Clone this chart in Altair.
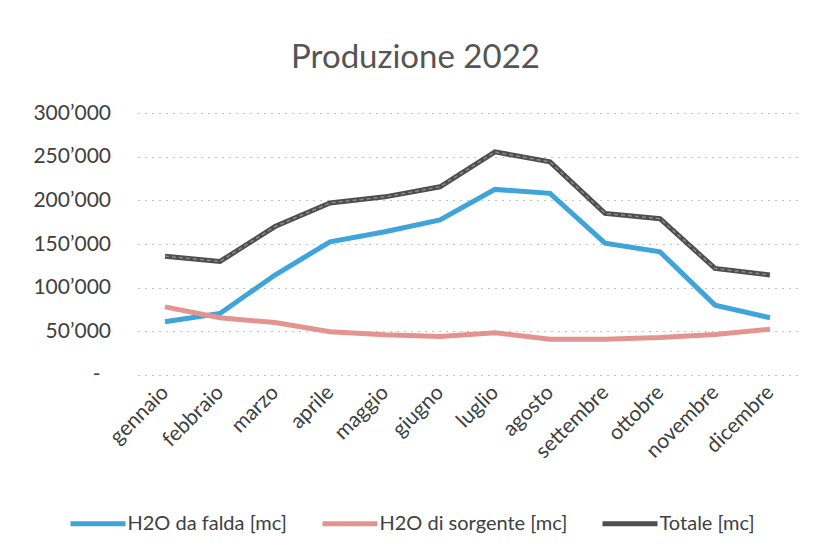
import altair as alt
import pandas as pd

months = ["gennaio", "febbraio", "marzo", "aprile", "maggio", "giugno",
          "luglio", "agosto", "settembre", "ottobre", "novembre", "dicembre"]
falda = [61000, 70500, 114500, 152500, 164000, 177500, 212500, 208000, 151000, 141000, 80000, 65500]
sorgente = [78000, 65500, 60000, 49500, 46000, 44000, 48500, 41000, 41000, 43000, 46500, 52500]
totale = [136000, 130000, 170000, 197000, 204000, 215500, 255500, 244000, 185000, 179000, 122000, 114500]
series = ["H2O da falda [mc]", "H2O di sorgente [mc]", "Totale [mc]"]
colors = ["#3ea4da", "#e3948f", "#4e4e4e"]
y_ticks = [0, 50000, 100000, 150000, 200000, 250000, 300000]

rows = []
for name, vals in zip(series, [falda, sorgente, totale]):
    for m, v in zip(months, vals):
        rows.append({"mese": m, "valore": v, "serie": name})
df = pd.DataFrame(rows)

FONT = "Lato"

x_enc = alt.X("mese:N", sort=months, scale=alt.Scale(padding=0.5),
              axis=alt.Axis(title=None, labelAngle=-45, labelAlign="right",
                            labelBaseline="middle", labelFontSize=21,
                            labelColor="#404040", labelFont=FONT, labelPadding=14,
                            domain=False, ticks=False, grid=False))
y_enc = alt.Y("valore:Q", scale=alt.Scale(domain=[0, 300000]),
              axis=alt.Axis(title=None, values=y_ticks, domain=False, ticks=False,
                            grid=True, gridColor="#c4c4c4", gridDash=[2, 5],
                            labelFontSize=21, labelColor="#404040", labelFont=FONT,
                            labelPadding=27,
                            labelExpr="datum.value == 0 ? '' : replace(format(datum.value, ','), ',', '\u2019')"))

lines = alt.Chart(df).mark_line(strokeWidth=5).encode(
    x=x_enc,
    y=y_enc,
    color=alt.Color("serie:N", scale=alt.Scale(domain=series, range=colors),
                    legend=alt.Legend(title=None, orient="none", legendX=-52, legendY=398,
                                      direction="horizontal", symbolType="M-2.75,0L2.75,0",
                                      symbolSize=400, symbolStrokeWidth=5,
                                      labelFontSize=20, labelColor="#404040",
                                      labelFont=FONT, columnPadding=25, labelOffset=17,
                                      labelLimit=400)),
)

# light inner texture on the Totale line (scanned look)
texture = alt.Chart(df).transform_filter(
    alt.datum.serie == series[2]
).mark_line(strokeWidth=1.5, color="#9a9a9a", strokeDash=[4, 3], opacity=0.8).encode(
    x=alt.X("mese:N", sort=months), y=alt.Y("valore:Q")
)

zero_lbl = alt.Chart(pd.DataFrame({"v": [0], "t": ["-"]})).mark_text(
    align="right", baseline="middle", fontSize=21, color="#404040", font=FONT
).encode(x=alt.value(-37), y=alt.Y("v:Q"), text="t:N")

chart = alt.layer(lines, texture, zero_lbl).properties(
    width=660, height=262,
    autosize=alt.AutoSizeParams(type="none"),
    padding={"left": 129.5, "top": 105, "right": 10, "bottom": 170},
    title=alt.TitleParams("Produzione 2022", fontSize=33, color="#555555", font=FONT,
                          fontWeight="normal", anchor="middle", dx=-52, offset=27),
).configure_view(stroke=None)

chart.save("out.html", embed_options={"renderer": "svg", "actions": False})
